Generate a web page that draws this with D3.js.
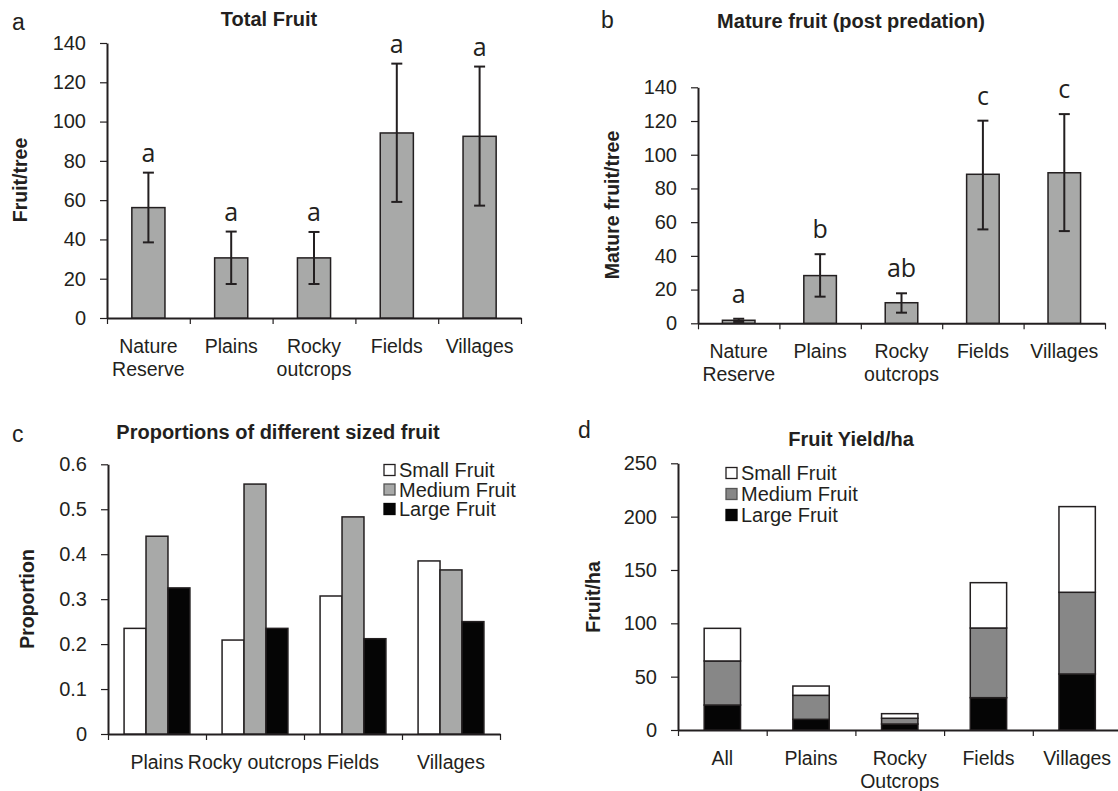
<!DOCTYPE html>
<html>
<head>
<meta charset="utf-8">
<script src="https://cdn.jsdelivr.net/npm/d3@7"></script>
<style>
  body { margin: 0; background: #fff; }
  text { font-family: "Liberation Sans", Arial, sans-serif; fill: #231f20; }
</style>
</head>
<body>
<svg id="chart" width="1118" height="791"></svg>
<script>
// panels a and b: per-tree counts by habitat
const habitatsAB = [["Nature", "Reserve"], ["Plains"], ["Rocky", "outcrops"], ["Fields"], ["Villages"]];

const totalMean = [56.2, 30.6, 30.6, 94.2, 92.5];
const totalLow = [38.5, 17.3, 17.3, 59.1, 57.2];
const totalHigh = [74.0, 44.0, 43.8, 129.5, 128.0];
const totalLetters = ["a", "a", "a", "a", "a"];

const matureMean = [1.8, 28.3, 12.2, 88.4, 89.3];
const matureLow = [0.8, 15.8, 6.3, 55.7, 54.7];
const matureHigh = [2.7, 41.0, 17.8, 120.2, 124.1];
const matureLetters = ["a", "b", "ab", "c", "c"];

// panel c: proportions of fruit sizes
const habitatsC = ["Plains", "Rocky outcrops", "Fields", "Villages"];
const propSmall = [0.235, 0.209, 0.307, 0.385];
const propMedium = [0.44, 0.556, 0.483, 0.365];
const propLarge = [0.325, 0.235, 0.212, 0.25];

// panel d: yield per hectare (stack segments)
const habitatsD = [["All"], ["Plains"], ["Rocky", "Outcrops"], ["Fields"], ["Villages"]];
const yieldLarge = [23.4, 10.0, 5.6, 30.3, 52.5];
const yieldMedium = [41.3, 22.5, 5.4, 65.3, 76.6];
const yieldSmall = [30.6, 8.7, 4.3, 42.5, 80.3];

const sizeNames = ["Small Fruit", "Medium Fruit", "Large Fruit"];

const ink = "#231f20";
const greyBar = "#a8a9a8";
const svg = d3.select("#chart");

function yAxis(y, xPos, ticks, fmt) {
  const g = svg.append("g")
    .attr("transform", `translate(${xPos},0)`)
    .call(d3.axisLeft(y).tickValues(ticks).tickSize(7).tickSizeOuter(0).tickPadding(14).tickFormat(fmt));
  g.attr("color", ink);
  g.select(".domain").attr("stroke-width", 2);
  g.selectAll(".tick line").attr("stroke-width", 1.2);
  g.selectAll(".tick text").style("font-size", "20px").style("font-family", "'Liberation Sans', Arial, sans-serif");
}

function xAxis(n, x0, x1, yPos, labels) {
  const x = d3.scaleLinear().domain([0, n]).range([x0, x1]);
  const g = svg.append("g")
    .attr("transform", `translate(0,${yPos})`)
    .call(d3.axisBottom(x).tickValues(d3.range(n + 1)).tickSize(6).tickSizeOuter(0).tickFormat(""));
  g.attr("color", ink);
  g.select(".domain").attr("stroke-width", 2);
  g.selectAll(".tick line").attr("stroke-width", 1.2);
  const t = svg.append("g").selectAll("text")
    .data(labels)
    .join("text")
    .attr("text-anchor", "middle")
    .style("font-size", "19.5px")
    .attr("x", (_, i) => x(i + 0.5))
    .attr("y", yPos + 35);
  t.selectAll("tspan")
    .data((d) => (Array.isArray(d) ? d : [d]))
    .join("tspan")
    .attr("x", function () { return this.parentNode.getAttribute("x"); })
    .attr("dy", (_, j) => (j === 0 ? 0 : 23))
    .text((d) => d);
  return x;
}

function panelText(label, lx, ly, title, tx, ty, ylab, yx, yy) {
  svg.append("text").attr("x", lx).attr("y", ly).style("font-size", "23px").text(label);
  svg.append("text").attr("x", tx).attr("y", ty).attr("text-anchor", "middle")
    .style("font-size", "20px").attr("font-weight", "bold").text(title);
  svg.append("text")
    .attr("transform", `translate(${yx},${yy}) rotate(-90)`)
    .attr("text-anchor", "middle").attr("dominant-baseline", "central")
    .style("font-size", "19.5px").attr("font-weight", "bold").text(ylab);
}

function errorBarPanel(p) {
  const y = d3.scaleLinear().domain([0, 140]).range([p.y0, p.y1]);
  const x = xAxis(p.mean.length, p.x0, p.x1, p.y0, habitatsAB);
  const step = x(1) - x(0);
  const bw = step * 0.4;

  svg.append("g").selectAll("rect")
    .data(p.mean)
    .join("rect")
    .attr("x", (_, i) => x(i + 0.5) - bw / 2)
    .attr("width", bw)
    .attr("y", (d) => y(d))
    .attr("height", (d) => y(0) - y(d))
    .attr("fill", greyBar)
    .attr("stroke", ink)
    .attr("stroke-width", 1.5);

  const eb = svg.append("g").attr("stroke", ink).attr("stroke-width", 2);
  p.mean.forEach((_, i) => {
    const cx = x(i + 0.5);
    eb.append("line").attr("x1", cx).attr("x2", cx).attr("y1", y(p.low[i])).attr("y2", y(p.high[i]));
    eb.append("line").attr("x1", cx - 5.5).attr("x2", cx + 5.5).attr("y1", y(p.low[i])).attr("y2", y(p.low[i]));
    eb.append("line").attr("x1", cx - 5.5).attr("x2", cx + 5.5).attr("y1", y(p.high[i])).attr("y2", y(p.high[i]));
  });

  svg.append("g").selectAll("text")
    .data(p.letters)
    .join("text")
    .attr("x", (_, i) => x(i + 0.5))
    .attr("y", (_, i) => y(p.high[i]) - p.gap)
    .attr("text-anchor", "middle")
    .style("font-size", "25px")
    .style("font-family", "'Open Sans', sans-serif")
    .text((d) => d);

  yAxis(y, p.x0, d3.range(0, 141, 20), (d) => d);
}

function legend(x, y, rowH, fills, strokes) {
  const g = svg.append("g").attr("transform", `translate(${x},${y})`);
  sizeNames.forEach((name, i) => {
    g.append("rect").attr("x", 0).attr("y", i * rowH - 5.5).attr("width", 11).attr("height", 11)
      .attr("fill", fills[i]).attr("stroke", strokes[i]).attr("stroke-width", 1.3);
    g.append("text").attr("x", 15).attr("y", i * rowH + 7).style("font-size", "20px").text(name);
  });
}

// ---- panel a
panelText("a", 12, 30, "Total Fruit", 269, 26, "Fruit/tree", 20, 180);
errorBarPanel({ x0: 107, x1: 521, y0: 318, y1: 43, mean: totalMean, low: totalLow, high: totalHigh, letters: totalLetters, gap: 11 });

// ---- panel b
panelText("b", 601, 28, "Mature fruit (post predation)", 851, 28, "Mature fruit/tree", 612, 205);
errorBarPanel({ x0: 698, x1: 1105, y0: 323.3, y1: 87.3, mean: matureMean, low: matureLow, high: matureHigh, letters: matureLetters, gap: 16 });

// ---- panel c
{
  panelText("c", 12, 442, "Proportions of different sized fruit", 278, 439, "Proportion", 27, 599);
  const y = d3.scaleLinear().domain([0, 0.6]).range([734, 464.3]);
  const x = xAxis(habitatsC.length, 108, 500, 734, habitatsC);
  const step = x(1) - x(0);
  const bw = step * 0.224;
  const series = [propSmall, propMedium, propLarge];
  const fills = ["#ffffff", greyBar, "#050505"];
  series.forEach((vals, k) => {
    svg.append("g").selectAll("rect")
      .data(vals)
      .join("rect")
      .attr("x", (_, i) => x(i + 0.5) - 1.5 * bw + k * bw)
      .attr("width", bw)
      .attr("y", (d) => y(d))
      .attr("height", (d) => y(0) - y(d))
      .attr("fill", fills[k])
      .attr("stroke", ink)
      .attr("stroke-width", 1.5);
  });
  yAxis(y, 108, d3.range(0, 7).map((d) => d / 10), (d) => (d === 0 ? "0" : d.toFixed(1)));
  legend(384, 470, 19.5, fills, [ink, "#555", "#050505"]);
}

// ---- panel d
{
  panelText("d", 578, 438, "Fruit Yield/ha", 851, 446, "Fruit/ha", 593, 597);
  const y = d3.scaleLinear().domain([0, 250]).range([730, 463.3]);
  const x = xAxis(habitatsD.length, 678, 1121.5, 730, habitatsD);
  const step = x(1) - x(0);
  const bw = step * 0.41;
  const keys = ["large", "medium", "small"];
  const rows = habitatsD.map((_, i) => ({ large: yieldLarge[i], medium: yieldMedium[i], small: yieldSmall[i] }));
  const stacked = d3.stack().keys(keys)(rows);
  const fillOf = { large: "#050505", medium: "#878787", small: "#ffffff" };
  svg.append("g").selectAll("g")
    .data(stacked)
    .join("g")
    .attr("fill", (s) => fillOf[s.key])
    .selectAll("rect")
    .data((s) => s)
    .join("rect")
    .attr("x", (_, i) => x(i + 0.5) - bw / 2)
    .attr("width", bw)
    .attr("y", (d) => y(d[1]))
    .attr("height", (d) => y(d[0]) - y(d[1]))
    .attr("stroke", ink)
    .attr("stroke-width", 1.5);
  yAxis(y, 678, d3.range(0, 251, 50), (d) => d);
  legend(726, 473, 21, ["#ffffff", "#878787", "#050505"], [ink, "#555", "#050505"]);
}
</script>
</body>
</html>
